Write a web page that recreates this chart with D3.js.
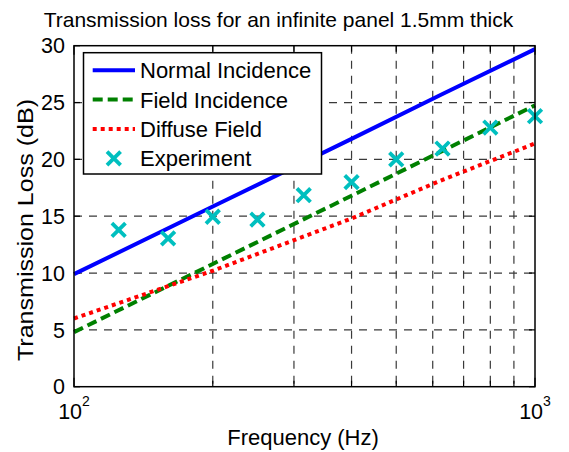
<!DOCTYPE html>
<html>
<head>
<meta charset="utf-8">
<script src="https://cdn.jsdelivr.net/npm/d3@7"></script>
<style>
  body { margin: 0; background: #fff; }
  text { font-family: "Liberation Sans", Arial, sans-serif; fill: #000; }
</style>
</head>
<body>
<div class="chart"></div>
<script>
// values
const lineFreqs = [100, 200, 400, 630, 1000]
const normalTL = [9.9, 15.85, 21.8, 25.75, 29.7]
const fieldTL = [4.8, 10.8, 16.8, 20.75, 24.75]
const diffuseTL = [6.0, 10.2, 14.8, 18.2, 21.4]

const expFreqs = [125, 160, 200, 250, 315, 400, 500, 630, 800, 1000]
const expTL = [13.8, 13.05, 14.95, 14.7, 16.85, 18.0, 20.0, 20.95, 22.8, 23.8]

const yTicks = [0, 5, 10, 15, 20, 25, 30]
const xMinor = [200, 300, 400, 500, 600, 700, 800, 900]
const xMajor = [100, 1000]

const legendItems = [
  {name: "Normal Incidence", color: "#0000ff", dash: null, type: "line"},
  {name: "Field Incidence", color: "#008000", dash: "10,5", type: "line"},
  {name: "Diffuse Field", color: "#ff0000", dash: "4,4", type: "line"},
  {name: "Experiment", color: "#00bfbf", dash: null, type: "mark"}
]

const W = 569, H = 452
const margin = {top: 45.7, right: 34, bottom: 65.3, left: 74}
const width = W - margin.left - margin.right
const height = H - margin.top - margin.bottom

const svg = d3.select(".chart").append("svg").attr("width", W).attr("height", H)
const g = svg.append("g").attr("transform", `translate(${margin.left},${margin.top})`)

const x = d3.scaleLog().domain([100, 1000]).range([0, width])
const y = d3.scaleLinear().domain([0, 30]).range([height, 0])

// grid
const gridColor = "#3a3a3a"
g.selectAll(".vgrid").data(xMinor).enter().append("line")
  .attr("x1", d => x(d)).attr("x2", d => x(d))
  .attr("y1", 0).attr("y2", height)
  .attr("stroke", gridColor).attr("stroke-width", 1.2).attr("stroke-dasharray", "8,7")
g.selectAll(".hgrid").data(yTicks.slice(1, -1)).enter().append("line")
  .attr("x1", 0).attr("x2", width)
  .attr("y1", d => y(d)).attr("y2", d => y(d))
  .attr("stroke", gridColor).attr("stroke-width", 1.2).attr("stroke-dasharray", "8,7")

// inward ticks
const tk = 6
g.selectAll(".ytl").data(yTicks).enter().append("line")
  .attr("x1", 0).attr("x2", tk).attr("y1", d => y(d)).attr("y2", d => y(d))
  .attr("stroke", "#000").attr("stroke-width", 1.2)
g.selectAll(".ytr").data(yTicks).enter().append("line")
  .attr("x1", width - tk).attr("x2", width).attr("y1", d => y(d)).attr("y2", d => y(d))
  .attr("stroke", "#000").attr("stroke-width", 1.2)
const allX = xMajor.concat(xMinor)
g.selectAll(".xtb").data(allX).enter().append("line")
  .attr("x1", d => x(d)).attr("x2", d => x(d))
  .attr("y1", d => height - (xMajor.includes(d) ? tk * 1.5 : tk)).attr("y2", height)
  .attr("stroke", "#000").attr("stroke-width", 1.2)
g.selectAll(".xtt").data(allX).enter().append("line")
  .attr("x1", d => x(d)).attr("x2", d => x(d))
  .attr("y1", 0).attr("y2", d => (xMajor.includes(d) ? tk * 1.5 : tk))
  .attr("stroke", "#000").attr("stroke-width", 1.2)

// y tick labels
g.selectAll(".ylab").data(yTicks).enter().append("text")
  .attr("x", -9).attr("y", d => y(d)).attr("dy", "0.36em")
  .attr("text-anchor", "end").style("font-size", "21.5px")
  .text(d => d)

// x tick labels 10^2, 10^3
const xl = g.selectAll(".xlab").data(xMajor).enter().append("text")
  .attr("x", d => x(d)).attr("y", height + 32)
  .attr("text-anchor", "middle").style("font-size", "21.5px")
xl.append("tspan").text("10")
xl.append("tspan").attr("dy", -13).style("font-size", "14px").text(d => Math.round(Math.log10(d)))

// lines
const line = d3.line().x(d => x(d[0])).y(d => y(d[1]))
const series = [normalTL, fieldTL, diffuseTL]
series.forEach((vals, i) => {
  const it = legendItems[i]
  g.append("path")
    .datum(lineFreqs.map((f, j) => [f, vals[j]]))
    .attr("d", line)
    .attr("fill", "none").attr("stroke", it.color).attr("stroke-width", 4)
    .attr("stroke-dasharray", it.dash)
})

// experiment crosses
const cs = 6.8
g.selectAll(".exp").data(expFreqs.map((f, i) => [f, expTL[i]])).enter().append("path")
  .attr("d", d => {
    const cx = x(d[0]), cy = y(d[1])
    return `M${cx - cs},${cy - cs}L${cx + cs},${cy + cs}M${cx - cs},${cy + cs}L${cx + cs},${cy - cs}`
  })
  .attr("stroke", "#00bfbf").attr("stroke-width", 3.8).attr("fill", "none")

// frame
g.append("rect").attr("width", width).attr("height", height)
  .attr("fill", "none").attr("stroke", "#000").attr("stroke-width", 1.5)

// legend
const lg = svg.append("g").attr("transform", "translate(83.5,52.7)")
lg.append("rect").attr("width", 238).attr("height", 121.3)
  .attr("fill", "#fff").attr("stroke", "#000").attr("stroke-width", 1.5)
legendItems.forEach((it, i) => {
  const ly = 17.5 + i * 29.4
  if (it.type === "line") {
    lg.append("line").attr("x1", 9.2).attr("x2", 51.5).attr("y1", ly).attr("y2", ly)
      .attr("stroke", it.color).attr("stroke-width", 4).attr("stroke-dasharray", it.dash)
  } else {
    const cx = 30.3
    lg.append("path")
      .attr("d", `M${cx - cs},${ly - cs}L${cx + cs},${ly + cs}M${cx - cs},${ly + cs}L${cx + cs},${ly - cs}`)
      .attr("stroke", it.color).attr("stroke-width", 3.8)
  }
  lg.append("text").attr("x", 56.5).attr("y", ly).attr("dy", "0.36em")
    .style("font-size", "22px").text(it.name)
})

// title and axis labels
svg.append("text").attr("x", 278.5).attr("y", 27)
  .attr("text-anchor", "middle").style("font-size", "21px")
  .text("Transmission loss for an infinite panel 1.5mm thick")
svg.append("text").attr("x", 303).attr("y", 445)
  .attr("text-anchor", "middle").style("font-size", "22px")
  .text("Frequency (Hz)")
svg.append("text").attr("transform", "translate(33,230) rotate(-90)")
  .attr("text-anchor", "middle").style("font-size", "22px")
  .attr("textLength", 262).attr("lengthAdjust", "spacingAndGlyphs")
  .text("Transmission Loss (dB)")
</script>
</body>
</html>
